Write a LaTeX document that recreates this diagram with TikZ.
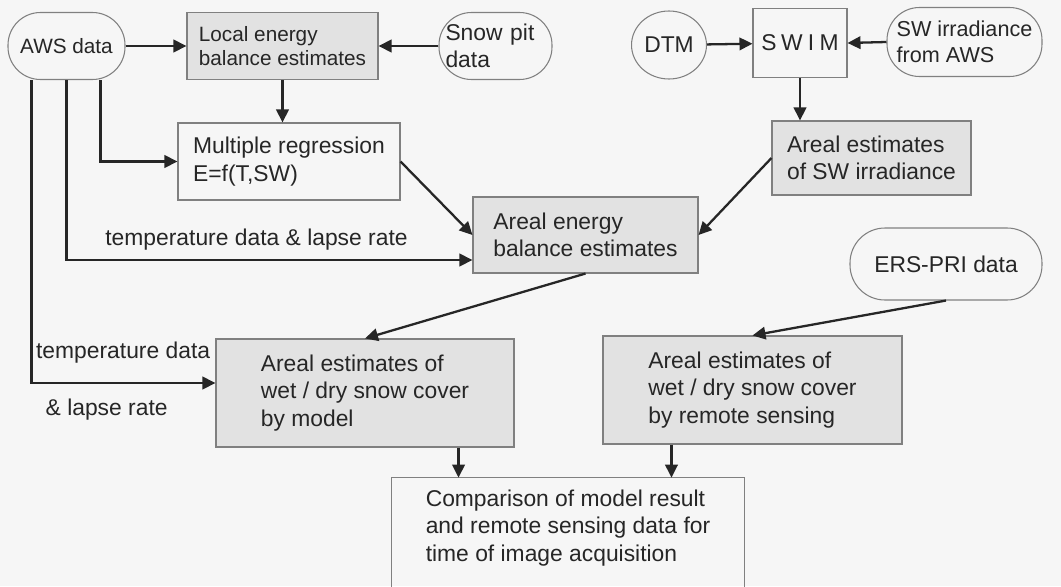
\documentclass[tikz,border=0pt]{standalone}
\usepackage{fontspec}
\setmainfont{Liberation Sans}
\usepackage{tikz}
\usetikzlibrary{positioning}
\usetikzlibrary{arrows.meta,shapes.geometric}
\usepackage{xcolor}
\definecolor{bgpaper}{gray}{0.965}
\definecolor{boxgray}{gray}{0.885}
\definecolor{edgegray}{gray}{0.5}
\definecolor{linedark}{gray}{0.15}

\begin{document}
\begin{tikzpicture}[
  txt/.style={font=\fontsize{13}{15.5}\selectfont, text=linedark},
  smalltxt/.style={font=\fontsize{11.8}{13.5}\selectfont},
  databox/.style={txt, draw=edgegray, line width=0.6pt, rounded corners=0.65cm, align=left, inner sep=2pt},
  procbox/.style={txt, draw=edgegray, line width=0.6pt, align=left, inner sep=2pt},
  estbox/.style={procbox, fill=boxgray},
  flow/.style={draw=linedark, line width=1.3pt, -{Triangle[length=2.6mm,width=2.5mm]}},
  lbl/.style={txt, inner sep=2pt}
]

\fill[bgpaper] (0,0) rectangle (21.22,-11.72);
\useasboundingbox (0,0) rectangle (21.22,-11.72);

% input data
\node[databox, smalltxt, minimum width=2.34cm, minimum height=1.34cm] (aws) at (1.33,-0.92) {AWS data};
\node[databox, minimum width=2.26cm, minimum height=1.34cm, text width=2.0cm, inner sep=2pt] (snow) at (9.91,-0.92) {Snow pit\\data};
\node[draw=edgegray, line width=0.6pt, ellipse, txt, minimum width=1.48cm, minimum height=1.36cm, inner sep=1pt] (dtm) at (13.38,-0.9) {DTM};
\node[databox, font=\fontsize{12.3}{14.5}\selectfont, minimum width=3.1cm, minimum height=1.38cm] (swirr) at (19.29,-0.84) {SW irradiance\\from AWS};
\node[databox, minimum width=3.84cm, minimum height=1.44cm, rounded corners=0.7cm] (ers) at (18.92,-5.28) {ERS-PRI data};

% processing steps
\node[estbox, smalltxt, minimum width=3.82cm, minimum height=1.34cm] (local) at (5.65,-0.92) {Local energy\\balance estimates};
\node[procbox, minimum width=1.88cm, minimum height=1.38cm] (swim) at (16.0,-0.86) {S\kern2.5pt W\kern3pt I\kern3pt M};
\node[procbox, minimum width=4.44cm, minimum height=1.54cm] (multi) at (5.78,-3.23) {Multiple regression\\E=f(T,SW)};
\node[estbox, minimum width=3.98cm, minimum height=1.48cm] (swarea) at (17.43,-3.16) {Areal estimates\\of SW irradiance};
\node[estbox, minimum width=4.5cm, minimum height=1.52cm] (energy) at (11.71,-4.70) {Areal energy\\balance estimates};
\node[estbox, minimum width=5.96cm, minimum height=2.16cm] (model) at (7.30,-7.86) {Areal estimates of\\wet / dry snow cover\\by model};
\node[estbox, minimum width=5.98cm, minimum height=2.16cm] (remote) at (15.05,-7.80) {Areal estimates of\\wet / dry snow cover\\by remote sensing};
\node[txt, align=left, inner sep=2pt, minimum width=7.04cm, minimum height=2.0cm] (cmp) at (11.36,-10.56) {Comparison of model result\\and remote sensing data for\\time of image acquisition};
\draw[draw=edgegray, line width=0.6pt] ([yshift=-0.6cm]cmp.south west) -- (cmp.north west) -- (cmp.north east) -- ([yshift=-0.6cm]cmp.south east);

% branch points
\coordinate (awsl) at ([xshift=0.48cm]aws.south west);
\coordinate (awsr) at ([xshift=-0.5cm]aws.south east);
\coordinate (modelout) at ([xshift=-1.12cm]model.south east);
\coordinate (remoteout) at ([xshift=1.38cm]remote.south west);

% connectors
\draw[flow] (aws.east) -- (local.west);
\draw[flow] (snow.west) -- (local.east);
\draw[flow] (local.south) -- (local.south |- multi.north);
\draw[flow] (awsr) |- (multi.west);
\draw[flow] (aws.south) |- ([yshift=-0.5cm]energy.west)
  node[lbl, pos=0.734, anchor=south, yshift=0.1cm] {temperature data \& lapse rate};
\draw[flow] (awsl) |- ([yshift=0.2cm]model.west)
  node[lbl, pos=0.5, anchor=south west, yshift=0.31cm] {temperature data}
  node[lbl, pos=0.526, anchor=north west, yshift=-0.235cm] {\& lapse rate};
\draw[flow] (dtm) -- (swim);
\draw[flow] (swirr.west) -- (swim.east);
\draw[flow] (swim.south) -- (swim.south |- swarea.north);
\draw[flow] (multi.east) -- (energy.west);
\draw[flow] (swarea.west) -- (energy.east);
\draw[flow] (energy.south) -- (model.north);
\draw[flow] (ers.south) -- (remote.north);
\draw[flow] (modelout) -- (modelout |- cmp.north);
\draw[flow] (remoteout) -- (remoteout |- cmp.north);

\end{tikzpicture}
\end{document}
